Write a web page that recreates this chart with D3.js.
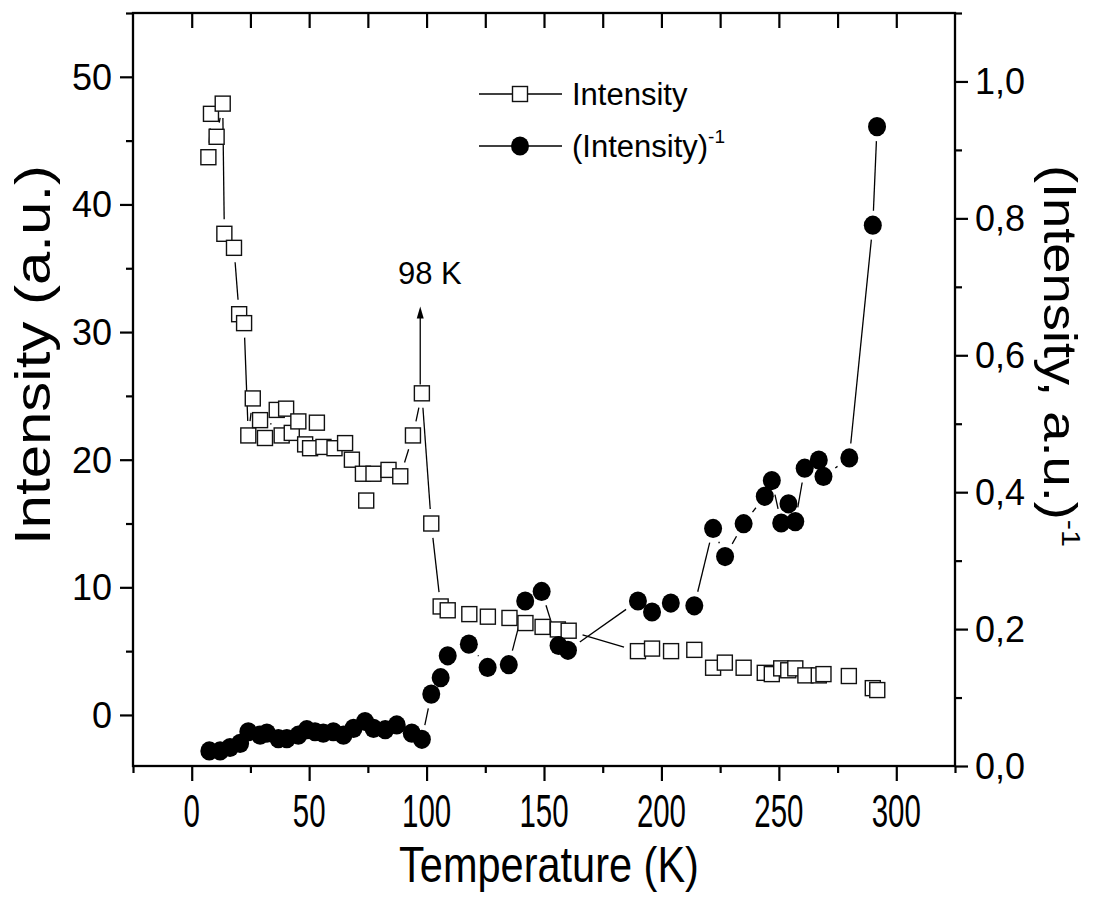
<!DOCTYPE html>
<html>
<head>
<meta charset="utf-8">
<script src="https://cdn.jsdelivr.net/npm/d3@7"></script>
<style>
  body { margin: 0; background: #fff; }
  text { font-family: "Liberation Sans", Arial, sans-serif; fill: #000; }
</style>
</head>
<body>
<svg id="chart" width="1096" height="913"></svg>
<script>
// Intensity (open squares, left axis)
var tempSq = [7.1, 8.2, 10.6, 13.2, 13.9, 18.0, 20.2, 22.3, 24.1, 26.0, 29.1, 31.2, 36.2, 38.3, 40.2, 42.6,
  45.4, 48.3, 50.4, 53.3, 56.1, 60.8, 65.3, 68.2, 72.9, 74.3, 77.4, 83.8, 88.8, 94.2, 98.0, 102.0, 106.0,
  109.0, 118.2, 126.1, 135.3, 142.1, 149.4, 155.9, 160.5, 190.0, 196.0, 204.1, 214.0, 222.0, 227.0, 235.0,
  244.0, 247.0, 251.0, 254.0, 257.0, 261.3, 267.0, 269.0, 279.8, 290.0, 291.9];
var intensity = [43.7, 47.1, 45.3, 47.9, 37.7, 36.6, 31.4, 30.7, 21.9, 24.8, 23.1, 21.7, 23.9, 21.9, 24.0, 22.1,
  23.0, 21.2, 20.9, 22.9, 21.0, 20.9, 21.3, 20.0, 18.9, 16.8, 18.9, 19.2, 18.7, 21.9, 25.2, 15.0, 8.5,
  8.2, 7.9, 7.7, 7.6, 7.2, 6.9, 6.7, 6.6, 5.0, 5.2, 5.0, 5.1, 3.7, 4.1, 3.7,
  3.3, 3.2, 3.65, 3.5, 3.65, 3.1, 3.1, 3.2, 3.05, 2.1, 1.95];

// (Intensity)^-1 (filled circles, right axis)
var tempCirc = [7.5, 12.1, 16.3, 20.6, 24.1, 29.1, 32.0, 36.9, 40.5, 45.4, 49.0, 52.5, 56.0, 60.3, 64.6,
  68.9, 73.8, 77.4, 82.4, 87.3, 93.7, 98.0, 102.0, 106.0, 109.0, 118.0, 126.0, 135.0, 142.0, 149.0, 156.2,
  160.2, 190.0, 196.0, 204.0, 214.0, 222.0, 227.1, 235.0, 244.0, 247.0, 251.0, 254.1, 257.0, 261.0, 267.0,
  269.0, 280.0, 290.0, 291.8];
var invIntensity = [0.022, 0.022, 0.027, 0.033, 0.050, 0.045, 0.048, 0.040, 0.040, 0.045, 0.053, 0.050, 0.048,
  0.050, 0.045, 0.055, 0.065, 0.055, 0.053, 0.060, 0.048, 0.039, 0.105, 0.129, 0.161, 0.178, 0.144, 0.148,
  0.241, 0.255, 0.176, 0.169, 0.241, 0.225, 0.238, 0.234, 0.347, 0.306, 0.354, 0.394, 0.417, 0.355, 0.383,
  0.357, 0.435, 0.447, 0.423, 0.450, 0.790, 0.934];

var xMajor = [0, 50, 100, 150, 200, 250, 300];
var yLeftMajor = [0, 10, 20, 30, 40, 50];
var yRightMajor = [0, 0.2, 0.4, 0.6, 0.8, 1.0];
var legendLabels = ["Intensity", "(Intensity)"];

var svg = d3.select("#chart");

var x = d3.scaleLinear().domain([-25, 325]).range([133, 955]);
var yL = d3.scaleLinear().domain([-4, 55]).range([766, 13]);
var yR = d3.scaleLinear().domain([0, 1.1]).range([766, 13]);

var sqData = tempSq.map(function(t, i) { return { x: x(t), y: yL(intensity[i]) }; });
var ciData = tempCirc.map(function(t, i) { return { x: x(t), y: yR(invIntensity[i]) }; });

// Origin style: line segments between points, with a gap around each symbol
function gappedSegments(g, pts, gap) {
  for (var i = 0; i < pts.length - 1; i++) {
    var a = pts[i], b = pts[i + 1];
    var dx = b.x - a.x, dy = b.y - a.y;
    var d = Math.sqrt(dx * dx + dy * dy);
    if (d <= 2 * gap + 0.5) continue;
    var ux = dx / d, uy = dy / d;
    g.append("line")
      .attr("x1", a.x + ux * gap).attr("y1", a.y + uy * gap)
      .attr("x2", b.x - ux * gap).attr("y2", b.y - uy * gap)
      .attr("stroke", "#000").attr("stroke-width", 1.3);
  }
}

var lines = svg.append("g");
gappedSegments(lines, sqData, 14.5);
gappedSegments(lines, ciData, 14.5);

// symbols
svg.append("g").selectAll("rect").data(sqData).enter().append("rect")
  .attr("x", function(d) { return d.x - 7.5; })
  .attr("y", function(d) { return d.y - 7.5; })
  .attr("width", 15).attr("height", 15)
  .attr("fill", "#fff").attr("stroke", "#111").attr("stroke-width", 1.4);

svg.append("g").selectAll("ellipse").data(ciData).enter().append("ellipse")
  .attr("cx", function(d) { return d.x; })
  .attr("cy", function(d) { return d.y; })
  .attr("rx", 9).attr("ry", 9.6)
  .attr("fill", "#000");

// axes
function minorOf(arr, step, lo, hi) {
  return d3.range(lo, hi + 1e-9, step).filter(function(v) {
    return !arr.some(function(m) { return Math.abs(m - v) < 1e-6; });
  });
}

function styleAxis(g) {
  g.selectAll(".domain").remove();
  g.selectAll("line").attr("stroke", "#000").attr("stroke-width", 2.2);
}

// bottom
svg.append("g").attr("transform", "translate(0,766)")
  .call(d3.axisBottom(x).tickValues(minorOf(xMajor, 25, -25, 325)).tickSize(7).tickFormat(""))
  .call(styleAxis);
svg.append("g").attr("transform", "translate(0,766)")
  .call(d3.axisBottom(x).tickValues(xMajor).tickSize(15).tickFormat(""))
  .call(styleAxis);
svg.append("g").selectAll("text").data(xMajor).enter().append("text")
  .attr("transform", function(d) { return "translate(" + x(d) + ",827) scale(0.64,1)"; })
  .attr("text-anchor", "middle")
  .style("font-size", "46px")
  .text(function(d) { return d; });

// top (inward)
svg.append("g").attr("transform", "translate(0,13)")
  .call(d3.axisBottom(x).tickValues(d3.range(0, 301, 25)).tickSize(15).tickFormat(""))
  .call(styleAxis);

// left
svg.append("g").attr("transform", "translate(133,0)")
  .call(d3.axisLeft(yL).tickValues(minorOf(yLeftMajor, 5, 0, 55)).tickSize(7).tickFormat(""))
  .call(styleAxis);
svg.append("g").attr("transform", "translate(133,0)")
  .call(d3.axisLeft(yL).tickValues(yLeftMajor).tickSize(13).tickFormat(""))
  .call(styleAxis);
svg.append("g").selectAll("text").data(yLeftMajor).enter().append("text")
  .attr("x", 112).attr("y", function(d) { return yL(d) + 13; })
  .attr("text-anchor", "end")
  .style("font-size", "36px")
  .text(function(d) { return d; });

// right
svg.append("g").attr("transform", "translate(955,0)")
  .call(d3.axisRight(yR).tickValues(minorOf(yRightMajor, 0.1, 0.1, 1.1)).tickSize(7).tickFormat(""))
  .call(styleAxis);
svg.append("g").attr("transform", "translate(955,0)")
  .call(d3.axisRight(yR).tickValues(yRightMajor).tickSize(13).tickFormat(""))
  .call(styleAxis);
svg.append("g").selectAll("text").data(yRightMajor).enter().append("text")
  .attr("x", 975).attr("y", function(d) { return yR(d) + 13; })
  .style("font-size", "36px")
  .text(function(d) { return d3.format(".1f")(d).replace(".", ","); });

// frame
svg.append("rect").attr("x", 133).attr("y", 13).attr("width", 822).attr("height", 753)
  .attr("fill", "none").attr("stroke", "#000").attr("stroke-width", 2.3);

// axis titles
svg.append("text")
  .attr("transform", "translate(549,882) scale(0.83,1)")
  .attr("text-anchor", "middle").style("font-size", "50px")
  .text("Temperature (K)");
svg.append("text")
  .attr("transform", "translate(50,355) rotate(-90) scale(1.2,1)")
  .attr("text-anchor", "middle").style("font-size", "50px")
  .text("Intensity (a.u.)");
var rt = svg.append("text")
  .attr("transform", "translate(1044,356) rotate(90) scale(1.18,1)")
  .attr("text-anchor", "middle").style("font-size", "46px");
rt.append("tspan").text("(Intensity, a.u.)");
rt.append("tspan").attr("dy", -18).style("font-size", "26px").text("-1");

// annotation arrow at 98 K
var ax = x(97.3);
svg.append("line").attr("x1", ax).attr("x2", ax)
  .attr("y1", yL(25.9)).attr("y2", yL(31.2))
  .attr("stroke", "#000").attr("stroke-width", 1.3);
svg.append("path")
  .attr("d", "M" + ax + "," + yL(32.0) + " l-3.5,12 l7,0 z")
  .attr("fill", "#000");
svg.append("text").attr("x", 398).attr("y", yL(33.8))
  .style("font-size", "31px").text("98 K");

// legend
var lg = svg.append("g");
[0, 1].forEach(function(i) {
  var ly = 94 + i * 52;
  lg.append("line").attr("x1", 479).attr("x2", 562).attr("y1", ly).attr("y2", ly)
    .attr("stroke", "#000").attr("stroke-width", 1.3);
  if (i === 0) {
    lg.append("rect").attr("x", 512.5).attr("y", ly - 7.5).attr("width", 15).attr("height", 15)
      .attr("fill", "#fff").attr("stroke", "#111").attr("stroke-width", 1.4);
  } else {
    lg.append("ellipse").attr("cx", 520).attr("cy", ly).attr("rx", 9).attr("ry", 9.6).attr("fill", "#000");
  }
  var t = lg.append("text").attr("x", 572).attr("y", ly + 11).style("font-size", "31px");
  t.append("tspan").text(legendLabels[i]);
  if (i === 1) t.append("tspan").attr("dy", -14).style("font-size", "19px").text("-1");
});
</script>
</body>
</html>
